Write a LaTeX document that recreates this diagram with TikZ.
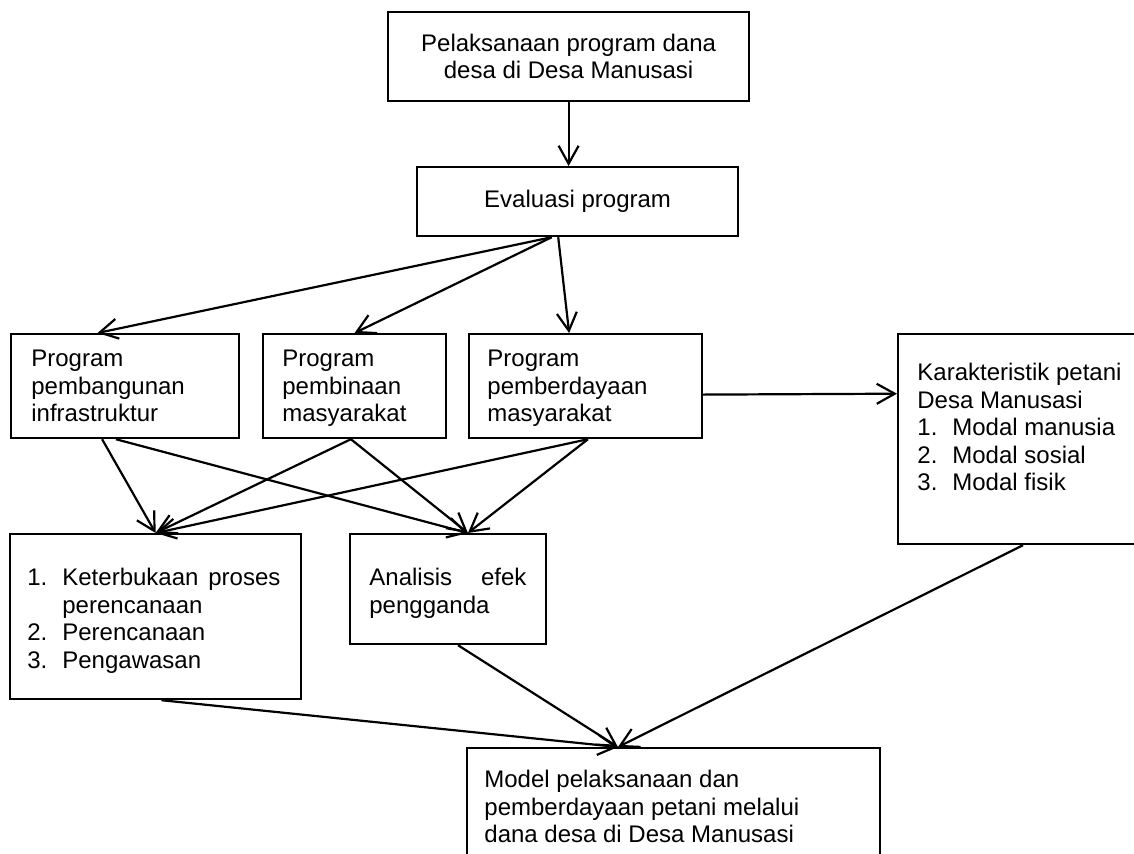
\documentclass[tikz,border=0pt]{standalone}
\usepackage{fontspec}
\setmainfont{Liberation Sans}
\usetikzlibrary{arrows.meta,calc,positioning}
\newcommand{\nomor}[1]{\makebox[17.5pt][l]{#1}}

\begin{document}
\begin{tikzpicture}[x=0.5pt,y=-0.5pt,font=\fontsize{12}{13.75}\selectfont,
  kotak/.style={draw,line width=1.1pt,inner sep=0pt,anchor=north west},
  isi/.style={inner sep=0pt,align=left},
  >={Straight Barb[length=9pt,width=10pt]}]
\useasboundingbox (0,0) rectangle (1134,853);
\clip (0,0) rectangle (1134,853);
\node[kotak,minimum width=180.5pt,minimum height=44.5pt,align=center] (top) at (387,11) {Pelaksanaan program dana\\desa di Desa Manusasi};
\node[kotak,minimum width=160.5pt,minimum height=34.5pt] (eval) at (416,166) {Evaluasi program};
\node[kotak,minimum width=114pt,minimum height=52pt] (p1) at (10,333) {};
\node[kotak,minimum width=91.5pt,minimum height=52pt] (p2) at (262,333) {};
\node[kotak,minimum width=116.5pt,minimum height=52pt] (p3) at (468,333) {};
\node[kotak,minimum width=125pt,minimum height=105pt] (kar) at (897,333) {};
\node[kotak,minimum width=145.5pt,minimum height=82.5pt] (ket) at (9,533) {};
\node[kotak,minimum width=98pt,minimum height=55pt] (ana) at (349,533) {};
\node[kotak,minimum width=206.5pt,minimum height=65pt] (model) at (466,747) {};
% isi kotak
\node[isi,below right=8.5pt and 10.5pt of p1.north west] (t1) {Program\\pembangunan\\infrastruktur};
\node[isi,below right=8.5pt and 10pt of p2.north west] (t2) {Program\\pembinaan\\masyarakat};
\node[isi,below right=8.5pt and 9.5pt of p3.north west] (t3) {Program\\pemberdayaan\\masyarakat};
\node[isi,below right=15pt and 10pt of kar.north west] (t4) {Karakteristik petani\\Desa Manusasi\\\nomor{1.}Modal manusia\\\nomor{2.}Modal sosial\\\nomor{3.}Modal fisik};
\node[isi,below right=17.5pt and 9pt of ket.north west] (t5) {\nomor{1.}\makebox[109pt][s]{Keterbukaan proses}\\\hspace*{17.5pt}perencanaan\\\nomor{2.}Perencanaan\\\nomor{3.}Pengawasan};
\node[isi,below right=17.5pt and 10pt of ana.north west] (t6) {\makebox[78.5pt][s]{Analisis efek}\\pengganda};
\node[isi,below right=11.5pt and 9pt of model.north west] (t7) {Model pelaksanaan dan\\pemberdayaan petani melalui\\dana desa di Desa Manusasi};
% panah
\coordinate (e1) at ($(eval.south west)!0.42!(eval.south east)$);
\coordinate (k1) at (ket.north);
\coordinate (a1) at ($(ana.north west)!0.6!(ana.north east)$);
\coordinate (m1) at ($(model.north west)!0.366!(model.north east)$);
\draw [line width=1.1pt,->] (top.south) -- (top.south |- eval.north);
\draw [line width=1.1pt,->] (e1) -- ($(p1.north west)!0.38!(p1.north east)$);
\draw [line width=1.1pt,->] (e1) -- (p2.north);
\draw [line width=1.1pt,->] ($(eval.south west)!0.44!(eval.south east)$) -- ($(p3.north west)!0.43!(p3.north east)$);
\draw [line width=1.1pt,->] ($(p3.north east)!0.58!(p3.south east)$) -- ($(kar.north west)!0.286!(kar.south west)$);
\draw [line width=1.1pt,->] ($(p1.south west)!0.40!(p1.south east)$) -- (k1);
\draw [line width=1.1pt,->] ($(p1.south west)!0.46!(p1.south east)$) -- (a1);
\draw [line width=1.1pt,->] ($(p2.south west)!0.48!(p2.south east)$) -- (k1);
\draw [line width=1.1pt,->] ($(p2.south west)!0.48!(p2.south east)$) -- (a1);
\draw [line width=1.1pt,->] ($(p3.south west)!0.51!(p3.south east)$) -- (k1);
\draw [line width=1.1pt,->] ($(p3.south west)!0.51!(p3.south east)$) -- (a1);
\draw [line width=1.1pt,->] ($(ket.south west)!0.52!(ket.south east)$) -- (m1);
\draw [line width=1.1pt,->] ($(ana.south west)!0.55!(ana.south east)$) -- (m1);
\draw [line width=1.1pt,->] ($(kar.south west)+(126,0)$) -- (m1);
\end{tikzpicture}
\end{document}
